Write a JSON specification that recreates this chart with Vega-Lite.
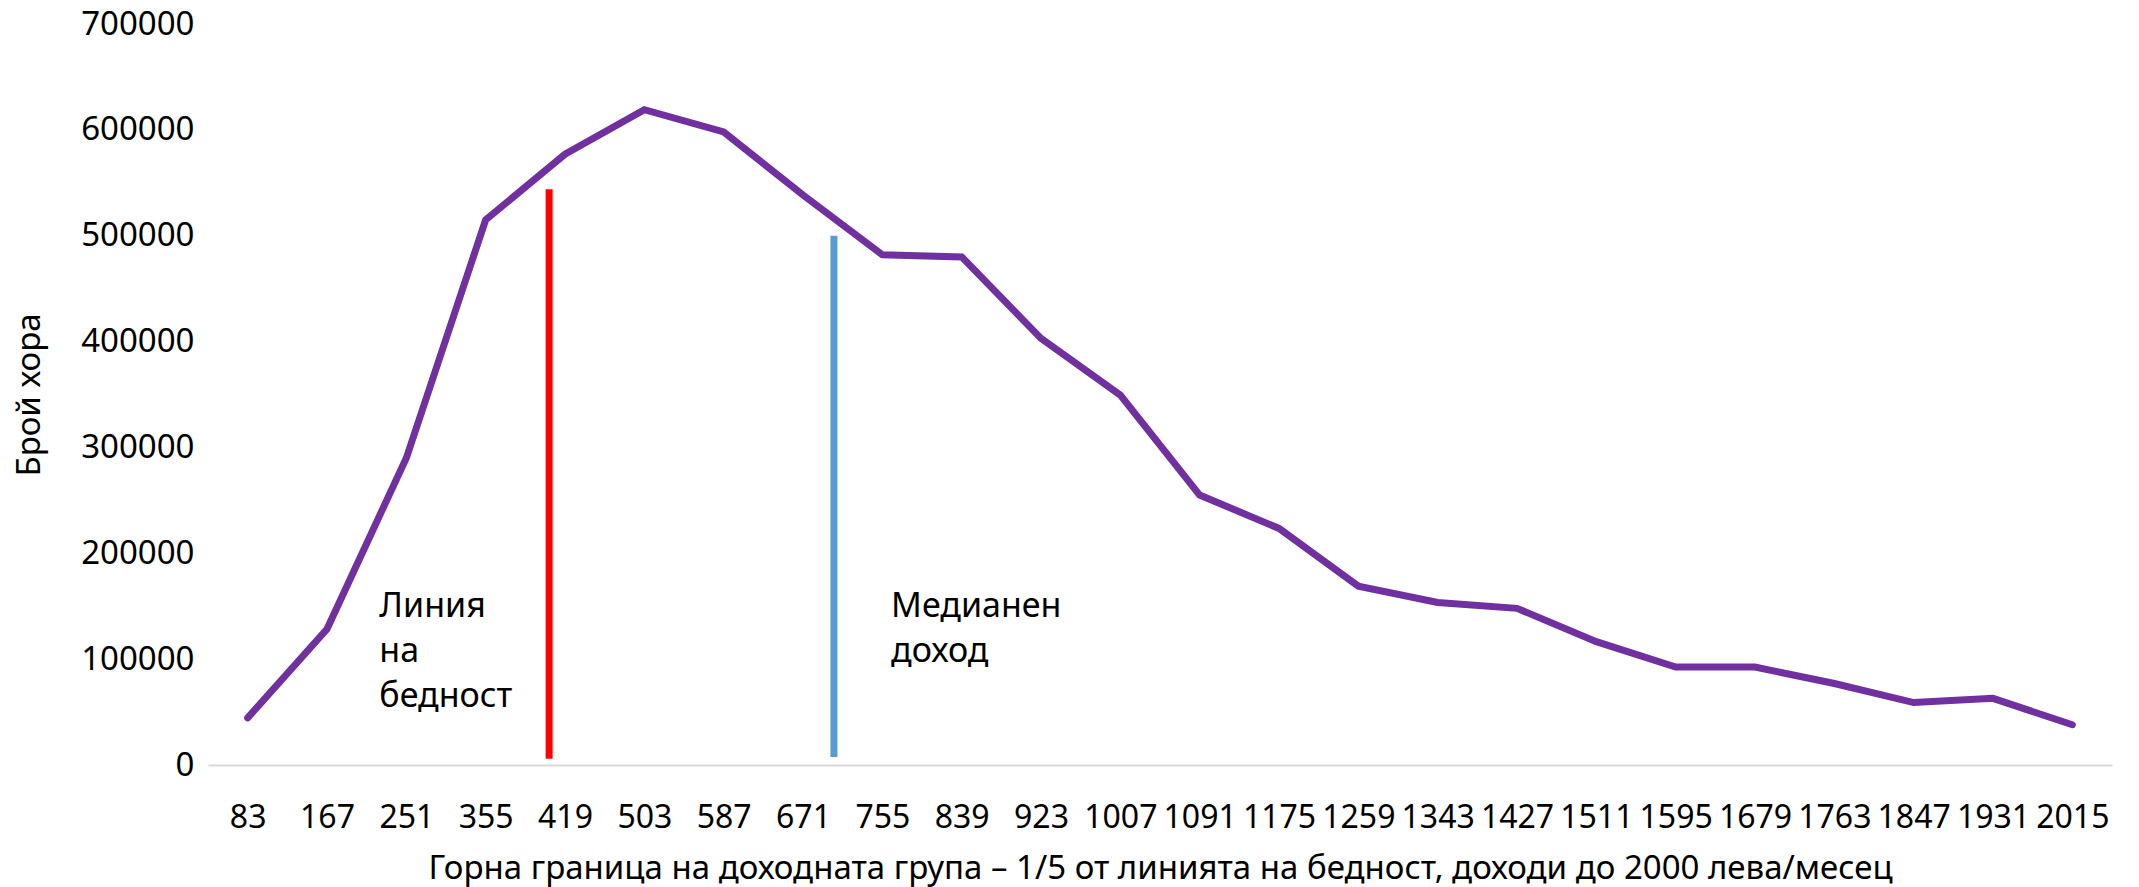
{
  "$schema": "https://vega.github.io/schema/vega-lite/v6.json",
  "width": 1904,
  "height": 741,
  "autosize": {"type": "none"},
  "padding": {"left": 208, "top": 24, "right": 27, "bottom": 122},
  "background": "white",
  "config": {
    "view": {"stroke": null},
    "font": "Noto Sans",
    "axis": {"labelFont": "Noto Sans", "titleFont": "Noto Sans", "labelColor": "#000000", "titleColor": "#000000", "titleFontWeight": "normal"}
  },
  "datasets": {
    "households": [
      {"income": "83", "count": 44500},
      {"income": "167", "count": 128500},
      {"income": "251", "count": 290000},
      {"income": "355", "count": 515000},
      {"income": "419", "count": 577000},
      {"income": "503", "count": 619000},
      {"income": "587", "count": 598000},
      {"income": "671", "count": 538500},
      {"income": "755", "count": 482000},
      {"income": "839", "count": 480000},
      {"income": "923", "count": 403000},
      {"income": "1007", "count": 349500},
      {"income": "1091", "count": 255000},
      {"income": "1175", "count": 223500},
      {"income": "1259", "count": 169000},
      {"income": "1343", "count": 153500},
      {"income": "1427", "count": 148000},
      {"income": "1511", "count": 116500},
      {"income": "1595", "count": 92500},
      {"income": "1679", "count": 92500},
      {"income": "1763", "count": 77000},
      {"income": "1847", "count": 59000},
      {"income": "1931", "count": 63000},
      {"income": "2015", "count": 38000}
    ],
    "markers": [
      {"name": "Линия на бедност", "pos": 3.8, "low": 6000, "high": 544000},
      {"name": "Медианен доход", "pos": 7.39, "low": 7500, "high": 500000}
    ],
    "notes": [
      {"label": "Линия на бедност", "pos": 1.66, "val": 140000},
      {"label": "Медианен доход", "pos": 8.11, "val": 140000}
    ]
  },
  "layer": [
    {
      "data": {"name": "households"},
      "mark": {"type": "line", "color": "#7030A0", "strokeWidth": 7, "strokeCap": "round"},
      "encoding": {
        "x": {
          "field": "income", "type": "ordinal", "sort": null,
          "scale": {"type": "point", "padding": 0.5},
          "axis": {
            "title": "Горна граница на доходната група – 1/5 от линията на бедност, доходи до 2000 лева/месец",
            "labelAngle": 0, "ticks": false, "domainColor": "#d9d9d9", "domainWidth": 2,
            "labelFontSize": 32, "labelPadding": 37, "titleFontSize": 33, "titlePadding": 19, "grid": false
          }
        },
        "y": {
          "field": "count", "type": "quantitative",
          "scale": {"domain": [0, 700000], "nice": false},
          "axis": {
            "title": "Брой хора",
            "values": [0, 100000, 200000, 300000, 400000, 500000, 600000, 700000],
            "format": "d", "domain": false, "ticks": false, "grid": false,
            "labelFontSize": 33, "labelPadding": 14, "titleFontSize": 33, "titlePadding": 34
          }
        }
      }
    },
    {
      "data": {"name": "markers"},
      "mark": {"type": "rule", "strokeWidth": 7},
      "encoding": {
        "x": {"field": "pos", "type": "quantitative", "scale": {"domain": [-0.5, 23.5], "nice": false, "zero": false}, "axis": null},
        "y": {"field": "low", "type": "quantitative"},
        "y2": {"field": "high"},
        "color": {"field": "name", "type": "nominal", "scale": {"domain": ["Линия на бедност", "Медианен доход"], "range": ["#FF0000", "#5B9BD5"]}, "legend": null}
      }
    },
    {
      "data": {"name": "notes"},
      "mark": {"type": "text", "align": "left", "baseline": "alphabetic", "lineBreak": " ", "lineHeight": 45, "fontSize": 34, "color": "#000000", "font": "Noto Sans"},
      "encoding": {
        "x": {"field": "pos", "type": "quantitative", "scale": {"domain": [-0.5, 23.5], "nice": false, "zero": false}, "axis": null},
        "y": {"field": "val", "type": "quantitative"},
        "text": {"field": "label"}
      }
    }
  ],
  "resolve": {"scale": {"x": "independent"}}
}
